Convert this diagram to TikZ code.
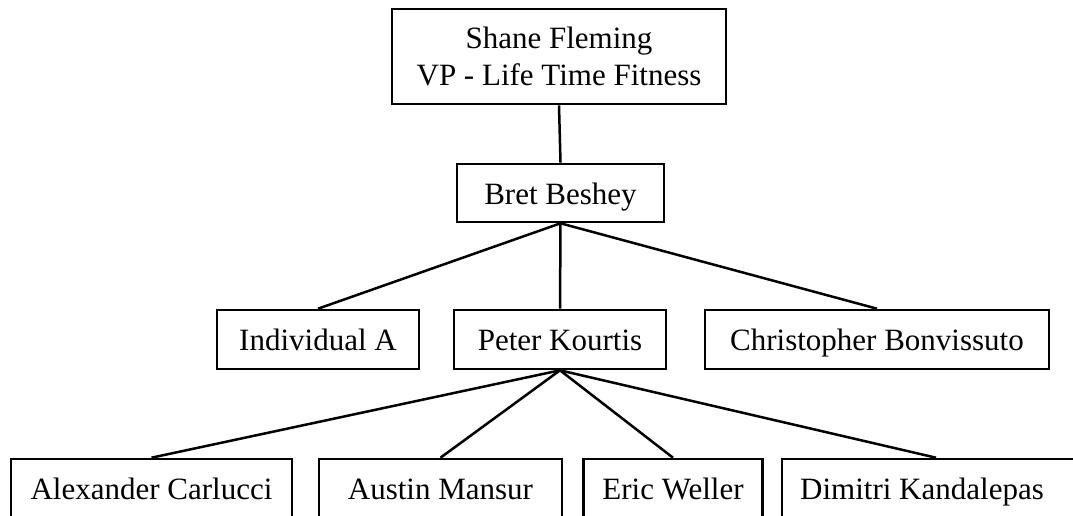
\documentclass[tikz,border=0pt]{standalone}
\usepackage{fontspec}
\setmainfont{Liberation Serif}
\begin{document}
\begin{tikzpicture}[x=1pt,y=-1pt,
  box/.style={draw=black,line width=2.6pt,fill=white,inner sep=0pt,align=center,
    text height=22pt,text depth=0pt,
    font=\fontsize{31}{37}\selectfont},
  lbl/.style={inner sep=0pt,text height=22pt,text depth=0pt,
    font=\fontsize{31}{37}\selectfont},
  link/.style={draw=black,line width=2.5pt}]
\useasboundingbox (0,0) rectangle (1073,516);
\node[box,minimum width=334pt,minimum height=95pt,text height=59pt] (top) at (559,56.5) {Shane Fleming\\VP - Life Time Fitness};
\node[box,minimum width=207pt,minimum height=58pt] (bret) at (560.5,193) {Bret Beshey};
\node[box,minimum width=202pt,minimum height=59pt] (inda) at (318,339.5) {Individual A};
\node[box,minimum width=212pt,minimum height=59pt] (peter) at (560,339.5) {Peter Kourtis};
\node[box,minimum width=344pt,minimum height=59pt] (chris) at (877,339.5) {Christopher Bonvissuto};
\node[box,minimum width=281pt,minimum height=59pt] (alex) at (151.5,488.5) {Alexander Carlucci};
\node[box,minimum width=243pt,minimum height=59pt] (austin) at (440.5,488.5) {Austin Mansur};
\node[box,minimum width=179pt,minimum height=59pt] (eric) at (673,488.5) {Eric Weller};
\node[box,minimum width=308pt,minimum height=59pt] (dimitri) at (936,488.5) {};
\node[lbl] (dimitrilbl) at (922,488.5) {Dimitri Kandalepas};
\draw[link] (top.south) -- (bret.north);
\draw[link] (bret.south) -- (inda.north);
\draw[link] (bret.south) -- (peter.north);
\draw[link] (bret.south) -- (chris.north);
\draw[link] (peter.south) -- (alex.north);
\draw[link] (peter.south) -- (austin.north);
\draw[link] (peter.south) -- (eric.north);
\draw[link] (peter.south) -- (dimitri.north);
\end{tikzpicture}
\end{document}
